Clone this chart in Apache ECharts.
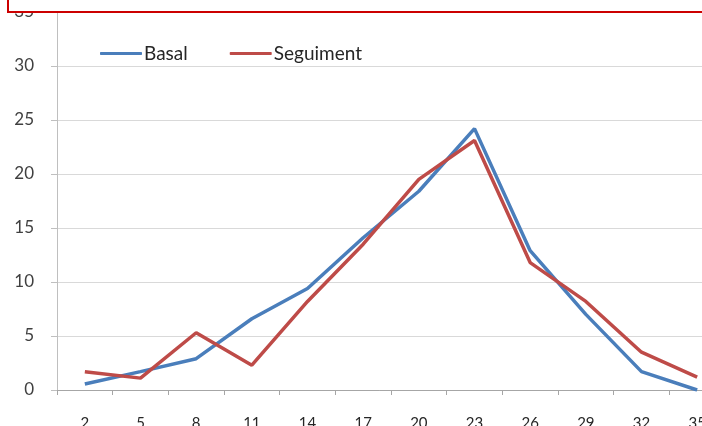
<!DOCTYPE html>
<html>
<head>
<meta charset="utf-8">
<script src="https://cdn.jsdelivr.net/npm/echarts@6/dist/echarts.min.js"></script>
<style>
html,body{margin:0;padding:0;background:#fff;}
#c{width:702px;height:426px;}
</style>
</head>
<body>
<div id="c"></div>
<script>
var categories = ['2','5','8','11','14','17','20','23','26','29','32','35'];
var basal = [0.55, 1.7, 2.9, 6.6, 9.4, 14.1, 18.4, 24.2, 12.9, 7.0, 1.7, 0];
var seguiment = [1.7, 1.1, 5.3, 2.3, 8.2, 13.5, 19.5, 23.1, 11.8, 8.2, 3.5, 1.2];
var seriesNames = ['Basal', 'Seguiment'];
var yTicks = [0, 5, 10, 15, 20, 25, 30, 35];

var chart = echarts.init(document.getElementById('c'), null, {renderer: 'canvas'});
var FONT = 'Lato';
chart.setOption({
  animation: false,
  backgroundColor: '#ffffff',
  grid: {left: 57, top: 12, width: 668, height: 378, containLabel: false, outerBoundsMode: 'none'},
  legend: {
    left: 100, top: 44, padding: 0,
    icon: 'roundRect', itemWidth: 42, itemHeight: 3, itemGap: 42,
    textStyle: {fontFamily: FONT, fontSize: 19, color: '#262626', padding: [0,0,0,-3]},
    data: seriesNames
  },
  xAxis: {
    type: 'category',
    data: categories,
    boundaryGap: true,
    axisLine: {lineStyle: {color: '#a6a6a6', width: 1}},
    axisTick: {show: true, length: 5, inside: false, alignWithLabel: false, lineStyle: {color: '#a6a6a6'}},
    axisLabel: {margin: 26, fontFamily: FONT, fontSize: 15, color: '#262626'},
    splitLine: {show: false}
  },
  yAxis: {
    type: 'value',
    min: yTicks[0], max: yTicks[yTicks.length - 1], interval: 5,
    axisLine: {show: true, lineStyle: {color: '#bfbfbf', width: 1}},
    axisTick: {show: true, length: 6, lineStyle: {color: '#bfbfbf'}},
    axisLabel: {margin: 23, fontFamily: FONT, fontSize: 17, color: '#404040'},
    splitLine: {show: true, lineStyle: {color: '#d9d9d9', width: 1}}
  },
  series: [
    {name: seriesNames[0], type: 'line', data: basal, symbol: 'none', showSymbol: false,
     color: '#4a7ebb', lineStyle: {color: '#4a7ebb', width: 3.5}},
    {name: seriesNames[1], type: 'line', data: seguiment, symbol: 'none', showSymbol: false,
     color: '#be4b48', lineStyle: {color: '#be4b48', width: 3.5}}
  ],
  graphic: [{
    type: 'rect', z: 100,
    shape: {x: 8, y: -10, width: 720, height: 22},
    style: {fill: '#ffffff', stroke: '#cc0000', lineWidth: 2}
  }]
});
</script>
</body>
</html>
